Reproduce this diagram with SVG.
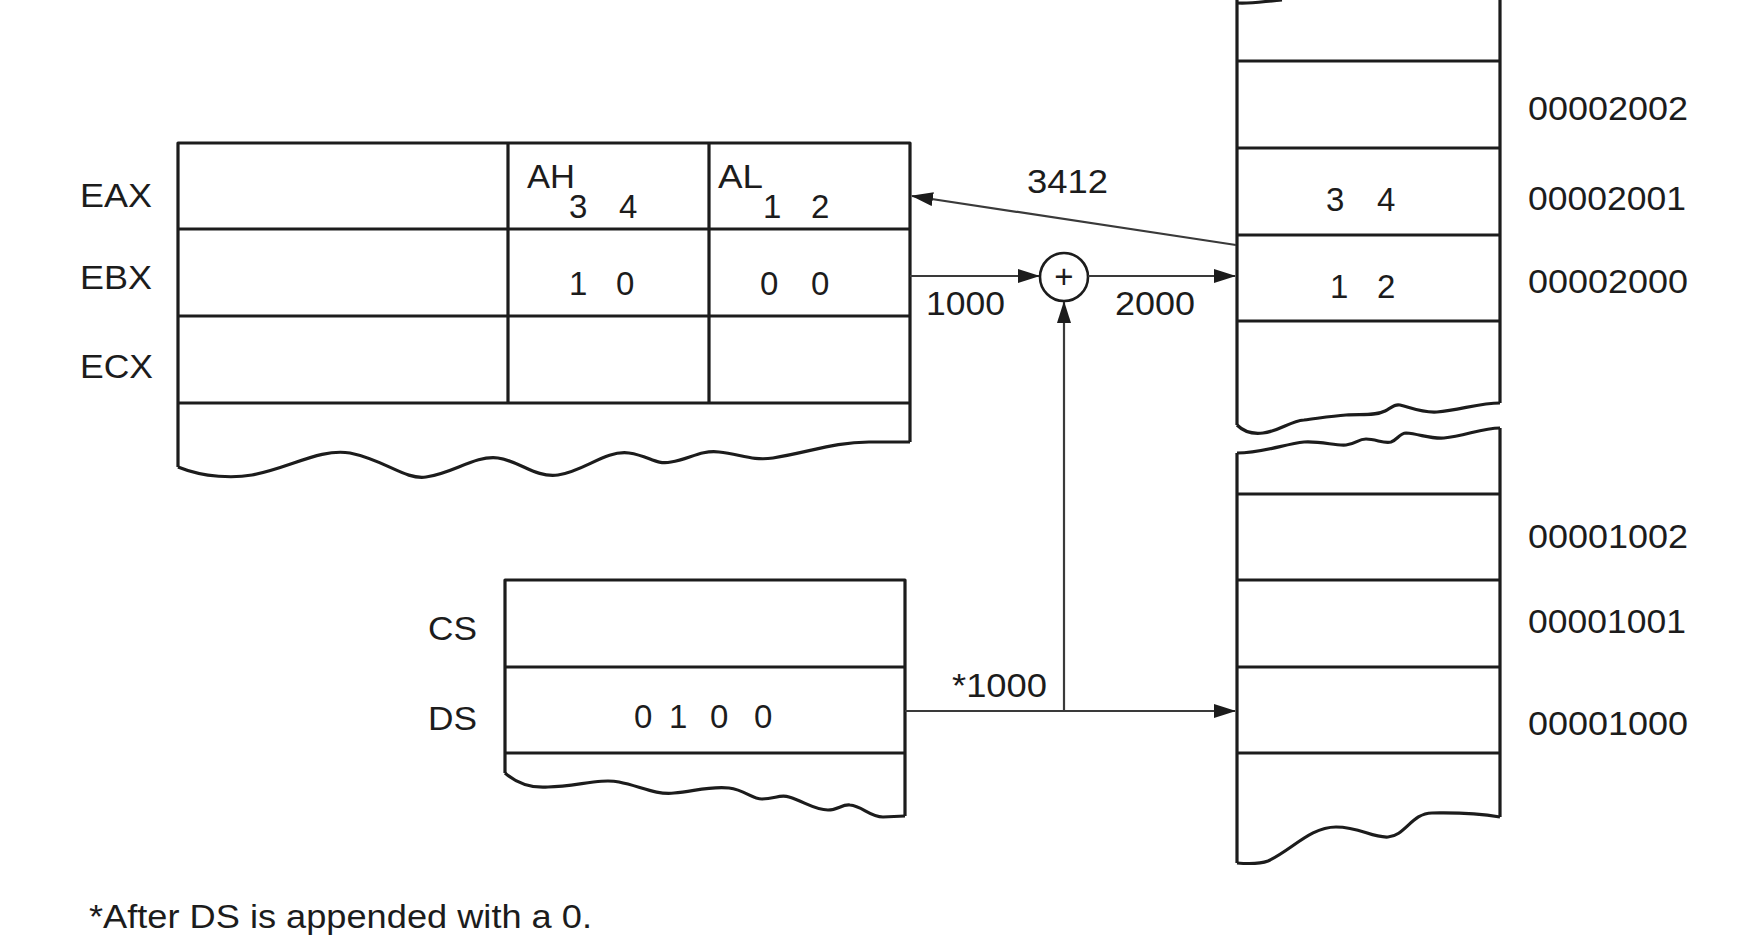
<svg xmlns="http://www.w3.org/2000/svg" width="1746" height="945" viewBox="0 0 1746 945">
<style>
.box{fill:none;stroke:#1c1c1c;stroke-width:3.2;stroke-linejoin:round}
.conn{fill:none;stroke:#3a3a3a;stroke-width:2.2}
text{font-family:"Liberation Sans",Arial,sans-serif;font-size:33px;fill:#1c1c1c}
.w{font-size:34px}
</style>
<defs>
<marker id="arr" viewBox="0 0 22 14" refX="21" refY="7" markerWidth="22" markerHeight="14" markerUnits="userSpaceOnUse" orient="auto">
<path d="M0,0 L22,7 L0,14 Z" fill="#1c1c1c"/>
</marker>
</defs>
<rect width="1746" height="945" fill="#ffffff"/>

<g id="registers">
<path class="box" d="M178,467 L178,143 L910,143 L910,442"/>
<path class="box" d="M178,229 H910 M178,316 H910 M178,403 H910 M508,143 V403 M709,143 V403"/>
<path class="box" d="M178,467 C205,478 235,478 252,475 C290,468 320,448 350,453 C385,460 405,480 426,477 C452,474 475,455 498,458 C520,461 535,478 558,475 C585,471 605,450 629,453 C650,456 655,465 671,462 C690,459 700,450 719,452 C740,454 752,461 773,458 C810,452 835,442 869,442 L910,442"/>
<text x="80" y="207" textLength="72" lengthAdjust="spacingAndGlyphs">EAX</text>
<text x="80" y="289" textLength="72" lengthAdjust="spacingAndGlyphs">EBX</text>
<text x="80" y="378" textLength="73" lengthAdjust="spacingAndGlyphs">ECX</text>
<text x="527" y="188" textLength="48" lengthAdjust="spacingAndGlyphs">AH</text>
<text x="569" y="218">3</text>
<text x="619" y="218">4</text>
<text x="718" y="188" textLength="45" lengthAdjust="spacingAndGlyphs">AL</text>
<text x="763" y="218">1</text>
<text x="811" y="218">2</text>
<text x="569" y="295">1</text>
<text x="616" y="295">0</text>
<text x="760" y="295">0</text>
<text x="811" y="295">0</text>
</g>

<g id="segments">
<path class="box" d="M505,773 L505,580 L905,580 L905,816"/>
<path class="box" d="M505,667 H905 M505,753 H905"/>
<path class="box" d="M505,773 C520,786 535,788 548,787 C575,787 600,778 619,782 C640,786 655,795 674,793 C695,791 710,786 729,788 C745,790 752,799 762,799 C775,799 780,794 789,797 C805,802 815,810 828,810 C838,810 842,804 850,805 C862,806 870,817 883,817 L905,816"/>
<text x="428" y="640" textLength="49" lengthAdjust="spacingAndGlyphs">CS</text>
<text x="428" y="730" textLength="49" lengthAdjust="spacingAndGlyphs">DS</text>
<text x="634" y="728">0</text>
<text x="669" y="728">1</text>
<text x="710" y="728">0</text>
<text x="754" y="728">0</text>
</g>

<g id="memory-upper">
<path class="box" d="M1237,0 L1237,425 M1500,0 L1500,403"/>
<path class="box" d="M1237,3 C1252,4 1266,1 1282,0"/>
<path class="box" d="M1237,61 H1500 M1237,148 H1500 M1237,235 H1500 M1237,321 H1500"/>
<path class="box" d="M1237,425 C1245,433 1255,434 1263,433 C1280,431 1290,421 1304,420 C1320,418 1332,416 1346,415 C1362,414 1375,416 1385,411 C1392,407 1395,404 1400,405 C1412,408 1422,413 1437,412 C1460,410 1480,403 1500,403"/>
<text x="1326" y="211">3</text>
<text x="1377" y="211">4</text>
<text x="1330" y="298">1</text>
<text x="1377" y="298">2</text>
<text class="w" x="1528" y="120" textLength="160" lengthAdjust="spacingAndGlyphs">00002002</text>
<text class="w" x="1528" y="210" textLength="158" lengthAdjust="spacingAndGlyphs">00002001</text>
<text class="w" x="1528" y="293" textLength="160" lengthAdjust="spacingAndGlyphs">00002000</text>
</g>

<g id="memory-lower">
<path class="box" d="M1237,453 L1237,863 M1500,428 L1500,817"/>
<path class="box" d="M1237,453 C1262,453 1285,444 1304,442 C1322,441 1335,446 1346,445 C1356,444 1358,439 1366,439 C1376,439 1384,444 1391,442 C1397,440 1400,433 1406,433 C1420,434 1430,439 1444,438 C1465,436 1482,428 1500,428"/>
<path class="box" d="M1237,494 H1500 M1237,580 H1500 M1237,667 H1500 M1237,753 H1500"/>
<path class="box" d="M1237,863 C1250,864 1260,864 1268,861 C1292,850 1310,827 1336,827 C1360,827 1372,838 1388,837 C1405,836 1412,813 1432,813 C1450,813 1470,812 1500,817"/>
<text class="w" x="1528" y="548" textLength="160" lengthAdjust="spacingAndGlyphs">00001002</text>
<text class="w" x="1528" y="633" textLength="158" lengthAdjust="spacingAndGlyphs">00001001</text>
<text class="w" x="1528" y="735" textLength="160" lengthAdjust="spacingAndGlyphs">00001000</text>
</g>

<g id="adder">
<circle cx="1064" cy="277" r="24" fill="#ffffff" stroke="#1c1c1c" stroke-width="2.6"/>
<text x="1064" y="288" text-anchor="middle" font-size="30">+</text>
</g>

<g id="connectors">
<line class="conn" x1="1236" y1="245" x2="912" y2="196" marker-end="url(#arr)"/>
<line class="conn" x1="910" y1="276" x2="1039" y2="276" marker-end="url(#arr)"/>
<line class="conn" x1="1088" y1="276" x2="1235" y2="276" marker-end="url(#arr)"/>
<line class="conn" x1="905" y1="711" x2="1235" y2="711" marker-end="url(#arr)"/>
<line class="conn" x1="1064" y1="711" x2="1064" y2="302" marker-end="url(#arr)"/>
<text x="1027" y="193" textLength="81" lengthAdjust="spacingAndGlyphs">3412</text>
<text x="926" y="315" textLength="79" lengthAdjust="spacingAndGlyphs">1000</text>
<text x="1115" y="315" textLength="80" lengthAdjust="spacingAndGlyphs">2000</text>
<text x="952" y="697" textLength="95" lengthAdjust="spacingAndGlyphs">*1000</text>
</g>

<text id="footnote" x="89" y="928" textLength="503" lengthAdjust="spacingAndGlyphs">*After DS is appended with a 0.</text>
</svg>
